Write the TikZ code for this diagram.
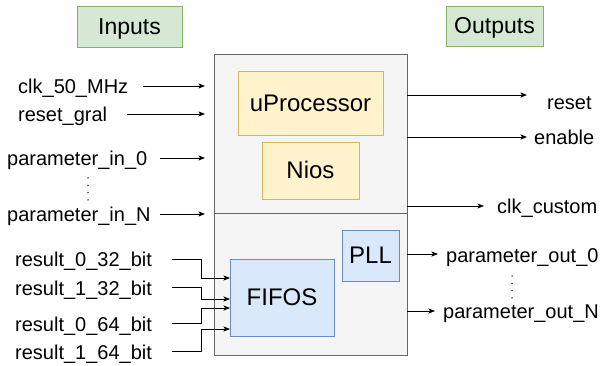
\documentclass[tikz,border=0pt]{standalone}
\usepackage{fontspec}
\setmainfont{Liberation Sans}
\usetikzlibrary{arrows.meta}
\definecolor{panelfill}{HTML}{F5F5F5}
\definecolor{panelline}{HTML}{666666}
\definecolor{yelfill}{HTML}{FFF2CC}
\definecolor{yelline}{HTML}{D6B656}
\definecolor{bluefill}{HTML}{DAE8FC}
\definecolor{blueline}{HTML}{6C8EBF}
\definecolor{grnfill}{HTML}{D5E8D4}
\definecolor{grnline}{HTML}{82B366}
\begin{document}
\begin{tikzpicture}[x=1pt,y=-1pt,
  panel/.style={draw=panelline, fill=panelfill, line width=1pt, inner sep=0pt, outer sep=0pt, anchor=north west},
  block/.style={line width=0.8pt, inner sep=0pt, outer sep=0pt, anchor=north west,
    font=\fontsize{24}{28}\selectfont, text height=21.7pt, text depth=5.1pt},
  yblock/.style={block, draw=yelline, fill=yelfill},
  bblock/.style={block, draw=blueline, fill=bluefill},
  hdr/.style={draw=grnline, fill=grnfill, line width=0.8pt, inner sep=0pt, outer sep=0pt, anchor=north west,
    font=\fontsize{23}{27}\selectfont, text height=20.8pt, text depth=4.9pt},
  lbl/.style={inner sep=0pt, anchor=base west, font=\fontsize{20}{24}\selectfont},
  sig/.style={-{Stealth[length=6.5pt,width=5pt,inset=1.5pt]}, line width=0.75pt},
  vdots/.style={line width=1.5pt, line cap=round, dash pattern=on 0pt off 7.3pt}]
\useasboundingbox (0,0) rectangle (608,366);

% headers
\node[hdr, minimum width=105pt, minimum height=41pt] (inhdr) at (77,6) {Inputs};
\node[hdr, minimum width=97pt, minimum height=40pt] (outhdr) at (446,6) {Outputs};

% main device: processor part and I/O part
\node[panel, minimum width=193pt, minimum height=159pt] (cpu) at (214,55) {};
\node[panel, minimum width=193pt, minimum height=141pt] (io) at (214,214) {};

\node[yblock, minimum width=145pt, minimum height=64pt] (uproc) at (238,71) {uProcessor};
\node[yblock, minimum width=97pt, minimum height=57pt] (nios) at (262,142) {Nios};
\node[bblock, minimum width=57pt, minimum height=51pt] (pll) at (342,230) {PLL};
\node[bblock, minimum width=104pt, minimum height=77pt] (fifo) at (230,259) {FIFOS};

% input labels
\node[lbl] (clk) at (18,94) {clk\_50\_MHz};
\node[lbl] (rstg) at (18,122) {reset\_gral};
\node[lbl] (pin0) at (7,166) {parameter\_in\_0};
\node[lbl] (pinN) at (7,222) {parameter\_in\_N};
\draw[vdots] (88,178) -- (88,200);

\coordinate (clkS) at (143,86);  \coordinate (clkE) at (205,86);
\coordinate (rstgS) at (127,114); \coordinate (rstgE) at (205,114);
\coordinate (pin0S) at (160,158); \coordinate (pin0E) at (205,158);
\coordinate (pinNS) at (160,214); \coordinate (pinNE) at (205,214);
\draw[sig] (clkS) -- (clkE);
\draw[sig] (rstgS) -- (rstgE);
\draw[sig] (pin0S) -- (pin0E);
\draw[sig] (pinNS) -- (pinNE);

% FIFO inputs
\node[lbl] (r032) at (15,267) {result\_0\_32\_bit};
\node[lbl] (r132) at (15,295) {result\_1\_32\_bit};
\node[lbl] (r064) at (15,331) {result\_0\_64\_bit};
\node[lbl] (r164) at (15,359) {result\_1\_64\_bit};
\coordinate (r032S) at (172,259);
\coordinate (r132S) at (172,287);
\coordinate (r064S) at (172,323);
\coordinate (r164S) at (172,351);
\draw[sig] (r032S) -- ++(29,0) |- ([yshift=19.5pt]fifo.west);
\draw[sig] (r132S) -- ++(29,0) |- ([yshift=-1.5pt]fifo.west);
\draw[sig] (r064S) -- ++(29,0) |- ([yshift=-10.5pt]fifo.west);
\draw[sig] (r164S) -- ++(29,0) |- ([yshift=-31.5pt]fifo.west);

% outputs
\node[lbl] (rst) at (547,110) {reset};
\node[lbl] (en) at (534,145) {enable};
\node[lbl] (clkc) at (497,214) {clk\_custom};
\node[lbl] (pout0) at (446,262) {parameter\_out\_0};
\node[lbl] (poutN) at (443,318) {parameter\_out\_N};
\draw[vdots] (512,276) -- (512,298);

\coordinate (rstE) at (527,95);
\coordinate (enE) at (527,137);
\coordinate (clkcE) at (484,206);
\coordinate (pout0E) at (438,254);
\coordinate (poutNE) at (435,311);
\draw[sig] (cpu.east |- rstE) -- (rstE);
\draw[sig] (cpu.east |- enE) -- (enE);
\draw[sig] (cpu.east |- clkcE) -- (clkcE);
\draw[sig] (io.east |- pout0E) -- (pout0E);
\draw[sig] (io.east |- poutNE) -- (poutNE);
\end{tikzpicture}
\end{document}
